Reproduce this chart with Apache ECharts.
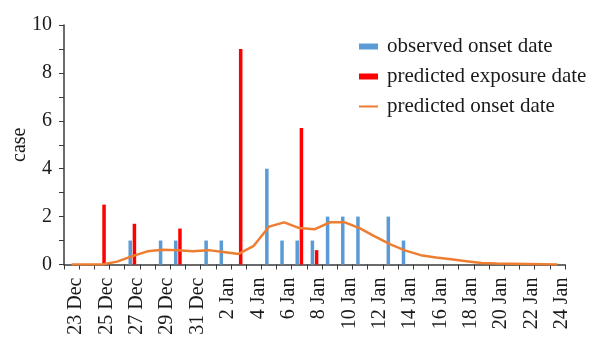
<!DOCTYPE html>
<html>
<head>
<meta charset="utf-8">
<script src="https://cdn.jsdelivr.net/npm/echarts@6/dist/echarts.min.js"></script>
<style>
html,body{margin:0;padding:0;background:#fff;}
#chart{width:590px;height:338px;}
</style>
</head>
<body>
<div id="chart"></div>
<script>
var categories = ['23 Dec','24 Dec','25 Dec','26 Dec','27 Dec','28 Dec','29 Dec','30 Dec','31 Dec',
  '1 Jan','2 Jan','3 Jan','4 Jan','5 Jan','6 Jan','7 Jan','8 Jan','9 Jan','10 Jan','11 Jan','12 Jan',
  '13 Jan','14 Jan','15 Jan','16 Jan','17 Jan','18 Jan','19 Jan','20 Jan','21 Jan','22 Jan','23 Jan','24 Jan'];
var observedOnset = [0,0,0,0,1,0,1,1,0,1,1,0,0,4,1,1,1,2,2,2,0,2,1,0,0,0,0,0,0,0,0,0,0];
var predictedExposure = [0,0,2.5,0,1.7,0,0,1.5,0,0,0,9,0,0,0,5.7,0.6,0,0,0,0,0,0,0,0,0,0,0,0,0,0,0,0];
var predictedOnset = [0,0,0,0.12,0.35,0.55,0.62,0.6,0.55,0.6,0.52,0.44,0.78,1.58,1.76,1.52,1.47,1.76,1.76,1.51,1.16,0.84,0.58,0.39,0.29,0.22,0.14,0.06,0.04,0.03,0.02,0.01,0];
var yTicks = [0,2,4,6,8,10];

var font = 'Liberation Serif';
var txt = '#1a1a1a';
var chart = echarts.init(document.getElementById('chart'), null, {renderer:'canvas'});
chart.setOption({
  animation:false,
  grid:{left:64, right:25, top:25, bottom:73.5, containLabel:false, outerBoundsMode:'none'},
  legend:{
    orient:'vertical', left:354, top:31, itemWidth:19, itemHeight:6, itemGap:9,
    textStyle:{fontFamily:font, fontSize:21, color:txt, padding:[0,0,0,4]},
    data:[
      {name:'observed onset date', icon:'rect'},
      {name:'predicted exposure date', icon:'rect'},
      {name:'predicted onset date', icon:'path://M0,0 L19,0 L19,2 L0,2 Z'}
    ]
  },
  xAxis:{
    type:'category', data:categories, boundaryGap:true,
    axisLine:{lineStyle:{color:'#3a3a3a', width:1.5}},
    axisTick:{show:true, interval:0, length:5, lineStyle:{color:'#3a3a3a'}},
    axisLabel:{interval:1, rotate:90, fontFamily:font, fontSize:20, color:txt, margin:13,
      verticalAlign:'top', lineHeight:9}
  },
  yAxis:{
    type:'value', min:0, max:10, interval:1,
    name:'case', nameLocation:'middle', nameGap:34, nameRotate:90, nameMoveOverlap:false,
    nameTextStyle:{fontFamily:font, fontSize:20, color:txt},
    axisLine:{show:true, lineStyle:{color:'#3a3a3a', width:1.5}},
    axisTick:{show:true, length:5, lineStyle:{color:'#3a3a3a'}},
    splitLine:{show:false},
    axisLabel:{fontFamily:font, fontSize:20, color:txt, margin:12,
      formatter:function(v){ return yTicks.indexOf(v) >= 0 ? String(v) : ''; }}
  },
  series:[
    {name:'observed onset date', type:'bar', data:observedOnset, barWidth:3.5, barGap:'20%',
     itemStyle:{color:'#5B9BD5'}},
    {name:'predicted exposure date', type:'bar', data:predictedExposure, barWidth:3.5, barGap:'20%',
     itemStyle:{color:'#FF0000'}},
    {name:'predicted onset date', type:'line', data:predictedOnset, symbol:'none',
     lineStyle:{color:'#ED7D31', width:2.5}, itemStyle:{color:'#ED7D31'}, z:3}
  ]
});
</script>
</body>
</html>
